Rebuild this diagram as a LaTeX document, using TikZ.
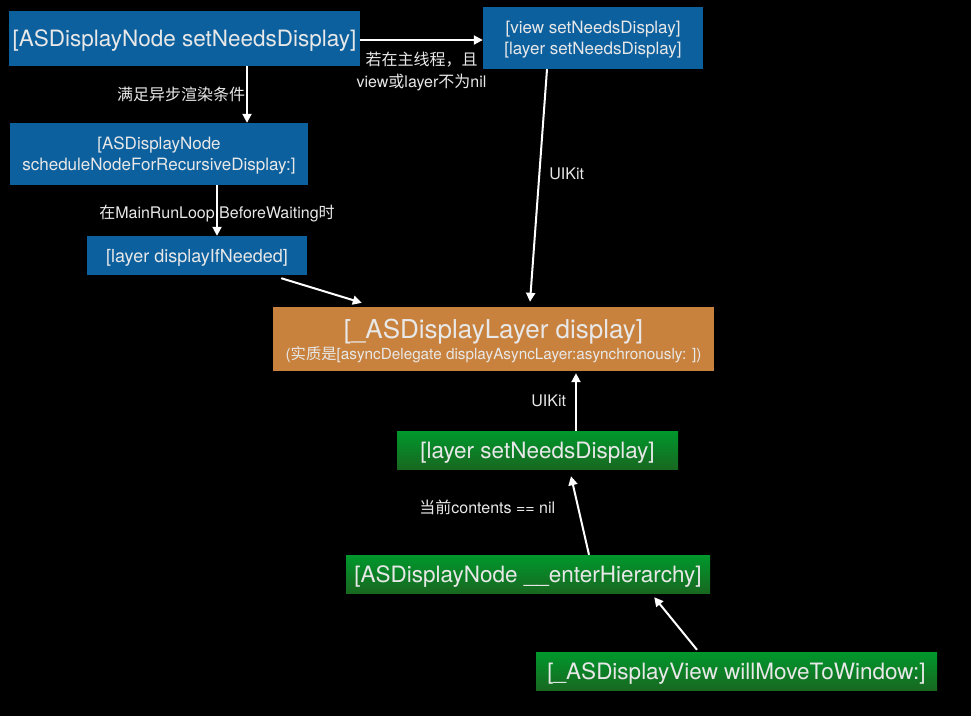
\documentclass[tikz,border=0pt]{standalone}
\usepackage{fontspec}
\setmainfont{TeX Gyre Heros}
\newfontfamily\cjk{Noto Sans CJK SC}
\usetikzlibrary{arrows.meta, positioning}

\definecolor{boxblue}{RGB}{12,96,158}
\definecolor{boxorange}{RGB}{200,130,62}
\definecolor{greentop}{RGB}{0,152,44}
\definecolor{greenbottom}{RGB}{24,104,32}
\definecolor{textwhite}{RGB}{232,232,232}

\begin{document}
\begin{tikzpicture}[
    x=1pt, y=-1pt, % one unit = one pixel of the sketch, y pointing down
    >={Triangle[length=9pt, width=9pt]},
    % Box styles
    blue box/.style={fill=boxblue, text=textwhite, inner sep=0pt, align=center, text depth=0pt},
    orange box/.style={fill=boxorange, text=textwhite, inner sep=0pt, align=center, text depth=0pt},
    green box/.style={top color=greentop, bottom color=greenbottom, text=textwhite, inner sep=0pt, align=center, text depth=0pt, minimum height=38pt},
    % Text styles
    big text/.style={font=\fontsize{22.5}{26}\selectfont},
    mid text/.style={font=\fontsize{17}{21}\selectfont},
    label text/.style={font=\fontsize{16}{22}\selectfont, text=textwhite, inner sep=0pt, align=center},
    flow/.style={->, draw=white, line width=2pt}
]

% Background
\fill[black] (0,0) rectangle (971,716);
\useasboundingbox (0,0) rectangle (971,716);

% ==========================================
% 1. SET NEEDS DISPLAY (blue boxes)
% ==========================================

\node[blue box, big text, minimum width=351pt, minimum height=55pt] (node_snd) at (184.5, 38.5) {[ASDisplayNode setNeedsDisplay]};
\node[blue box, mid text, minimum width=220pt, minimum height=62pt] (view_snd) at (593, 38) {[view setNeedsDisplay]\\{}[layer setNeedsDisplay]};
\node[blue box, mid text, minimum width=298pt, minimum height=62pt] (schedule) at (159, 154) {[ASDisplayNode\\scheduleNodeForRecursiveDisplay:]};
\node[blue box, font=\fontsize{18}{22}\selectfont, minimum width=220pt, minimum height=39pt] (if_needed) at (197, 255.5) {[layer displayIfNeeded]};

% ==========================================
% 2. DISPLAY LAYER (orange box)
% ==========================================

\node[orange box, minimum width=441pt, minimum height=64pt] (layer_display) at (493.5, 339)
    {{\fontsize{26}{30}\selectfont [\_ASDisplayLayer display]}\\[1pt]
     {\fontsize{15.3}{17}\selectfont ({\cjk 实质是}[asyncDelegate displayAsyncLayer:asynchronously: ])}};

% ==========================================
% 3. HIERARCHY (green boxes)
% ==========================================

\node[green box, big text, minimum width=281pt] (layer_snd) at (537.5, 450) {[layer setNeedsDisplay]};
\node[green box, big text, minimum width=364pt] (enter) at (528, 574) {[ASDisplayNode \_\_enterHierarchy]};
\node[green box, big text, minimum width=401pt] (will_move) at (736.5, 671) {[\_ASDisplayView willMoveToWindow:]};

% ==========================================
% 4. ARROWS AND LABELS
% ==========================================

% main thread branch
\draw[flow] ([yshift=-1.5pt]node_snd.east) -- node[label text, below=11pt] {{\cjk 若在主线程，且}\\view{\cjk 或}layer{\cjk 不为}nil} ([yshift=-1.5pt]node_snd.east -| view_snd.west);

% async branch
\draw[flow] ([xshift=62.5pt]node_snd.south) -- node[label text, midway, left=1pt] {\cjk 满足异步渲染条件} ([xshift=62.5pt]node_snd.south |- schedule.north);
\draw[flow] ([xshift=58pt]schedule.south) -- node[label text, midway, yshift=-3pt] {{\cjk 在}MainRunLoop BeforeWaiting{\cjk 时}} ([xshift=58pt]schedule.south |- if_needed.north);
\draw[flow] ([xshift=-26pt, yshift=-3pt]if_needed.south east) -- ([xshift=89pt, yshift=4pt]layer_display.north west);

% UIKit into the layer
\draw[flow] ([xshift=-46pt]view_snd.south) -- node[label text, pos=0.45, right=9pt] {UIKit} ([xshift=36.5pt, yshift=5pt]layer_display.north);
\draw[flow, shorten >=2pt] ([xshift=38.5pt]layer_snd.north) -- node[label text, midway, left=9pt] {UIKit} ([xshift=38.5pt]layer_snd.north |- layer_display.south);

% hierarchy chain
\draw[flow] ([xshift=61pt]enter.north) -- node[label text, pos=0.6, left=22pt] {{\cjk 当前}contents == nil} ([xshift=33.5pt, yshift=-7pt]layer_snd.south);
\draw[flow] ([xshift=-39.5pt, yshift=2pt]will_move.north) -- ([xshift=-56pt, yshift=-4pt]enter.south east);

\end{tikzpicture}
\end{document}
